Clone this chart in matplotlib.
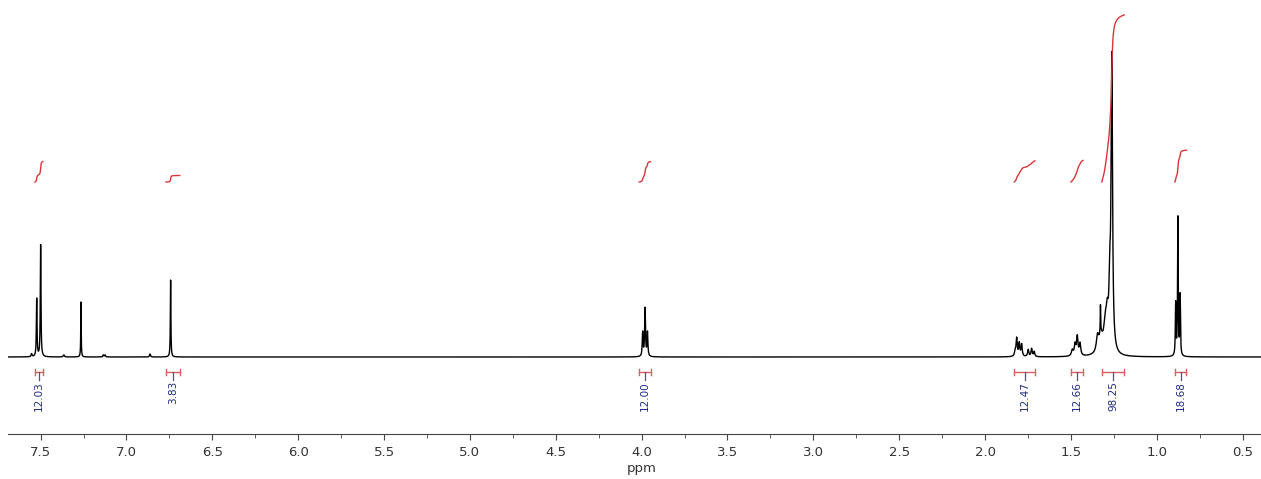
import matplotlib.pyplot as plt
import numpy as np
from matplotlib.ticker import MultipleLocator

# Peak list: position (ppm), height, half width (ppm)
peak_ppm = [7.553, 7.523, 7.500, 7.365, 7.265, 7.135, 7.125, 6.863, 6.743,
            3.994, 3.980, 3.966,
            1.825, 1.816, 1.801, 1.787, 1.749, 1.729, 1.714,
            1.492, 1.476, 1.463, 1.447,
            1.345, 1.325, 1.328, 1.300, 1.288, 1.274, 1.262,
            0.890, 0.877, 0.864]
peak_height = [3, 58, 112, 2, 55, 2, 2, 3, 77,
               24, 48, 24,
               5, 18, 13, 12, 7, 8, 5,
               6, 11, 19, 12,
               15, 16, 28, 25, 30, 55, 292,
               52, 138, 60]
peak_width = [0.003, 0.0022, 0.0022, 0.004, 0.0015, 0.003, 0.003, 0.003, 0.0018,
              0.0028, 0.0028, 0.0028,
              0.004, 0.004, 0.004, 0.004, 0.004, 0.004, 0.004,
              0.006, 0.005, 0.005, 0.005,
              0.008, 0.015, 0.0015, 0.010, 0.008, 0.005, 0.005,
              0.0022, 0.0022, 0.0022]

# Integral regions (ppm, left to right) and values
int_start = [7.533, 6.770, 4.014, 1.830, 1.500, 1.320, 0.895]
int_end = [7.487, 6.690, 3.948, 1.710, 1.430, 1.190, 0.827]
int_value = [12.03, 3.83, 12.00, 12.47, 12.66, 98.25, 18.68]

x = np.linspace(7.69, 0.39, 60000)
y = np.zeros_like(x)
for p, h, w in zip(peak_ppm, peak_height, peak_width):
    y += h * w**2 / ((x - p)**2 + w**2)

fig = plt.figure(figsize=(12.61, 4.79), dpi=100)
ax = fig.add_axes([8 / 1261, 45 / 479, 1253 / 1261, 434 / 479])
ax.plot(x, y, color='black', lw=1.0)

red = '#d8363a'
for a, b, v in zip(int_start, int_end, int_value):
    m = (x <= a) & (x >= b)
    xs = x[m]
    cum = np.cumsum(y[m])
    cum = cum / cum[-1]
    ax.plot(xs, 175 + cum * v * 1.7, color=red, lw=1.0)

    # bracket, stem and value below the baseline
    mid = (a + b) / 2
    ax.plot([a, b], [-15, -15], color='#d86060', lw=1.0)
    ax.plot([a, a], [-18, -12], color='#d86060', lw=1.0)
    ax.plot([b, b], [-18, -12], color='#d86060', lw=1.0)
    ax.plot([mid, mid], [-15, -23], color='#555577', lw=0.9)
    ax.text(mid, -24, f'{v:.2f}', rotation=90, ha='center', va='top',
            fontsize=7.5, color='#1f2a80')

ax.set_xlim(7.69, 0.393)
ax.set_ylim(-77, 357)
for s in ['top', 'left', 'right']:
    ax.spines[s].set_visible(False)
ax.spines['bottom'].set_color('#444444')
ax.set_yticks([])
ax.xaxis.set_major_locator(MultipleLocator(0.5))
ax.xaxis.set_minor_locator(MultipleLocator(0.25))
ax.tick_params(axis='x', which='major', length=4, color='#444444',
               labelsize=9.5, labelcolor='#333333', pad=5)
ax.tick_params(axis='x', which='minor', length=3, color='#444444')
ax.set_xlabel('ppm', fontsize=9.5, color='#333333', labelpad=1)
ax.xaxis.set_label_coords((642 - 8) / 1253, -0.065)

fig.savefig('out.png', dpi=100)
